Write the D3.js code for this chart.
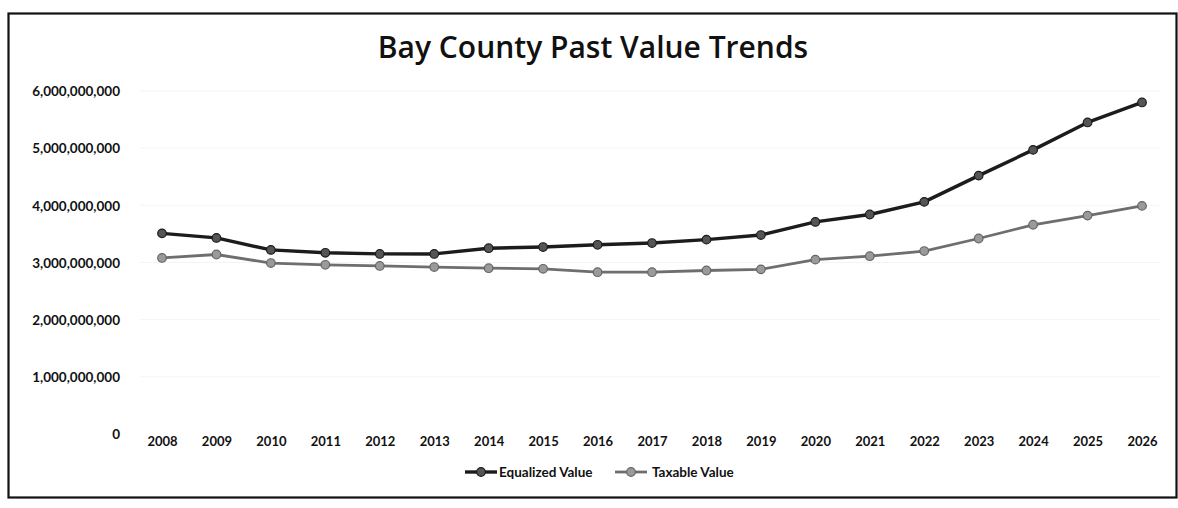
<!DOCTYPE html>
<html>
<head>
<meta charset="utf-8">
<script src="https://cdn.jsdelivr.net/npm/d3@7"></script>
<style>
  html, body { margin: 0; padding: 0; background: #fff; }
  svg { display: block; }
</style>
</head>
<body>
<svg id="chart" width="1178" height="508"></svg>
<script>
const years = ["2008","2009","2010","2011","2012","2013","2014","2015","2016","2017","2018","2019","2020","2021","2022","2023","2024","2025","2026"];
const equalizedValue = [3.51e9,3.43e9,3.22e9,3.17e9,3.15e9,3.15e9,3.25e9,3.27e9,3.31e9,3.34e9,3.40e9,3.48e9,3.71e9,3.84e9,4.06e9,4.52e9,4.97e9,5.45e9,5.80e9];
const taxableValue = [3.08e9,3.14e9,2.99e9,2.96e9,2.94e9,2.92e9,2.90e9,2.89e9,2.83e9,2.83e9,2.86e9,2.88e9,3.05e9,3.11e9,3.20e9,3.42e9,3.66e9,3.82e9,3.99e9];
const yTicks = [0,1e9,2e9,3e9,4e9,5e9,6e9];
const seriesNames = ["Equalized Value","Taxable Value"];

const svg = d3.select("#chart");

// frame
svg.append("rect").attr("x",8.5).attr("y",13.5).attr("width",1168).attr("height",484)
  .attr("fill","#fff").attr("stroke","#111").attr("stroke-width",2.2);

// title
svg.append("text").attr("x",593).attr("y",58).attr("text-anchor","middle")
  .attr("font-family","Open Sans, Inter, sans-serif").attr("font-weight",600)
  .attr("font-size",30).attr("fill","#111").text("Bay County Past Value Trends");

const x = d3.scalePoint().domain(years).range([162,1142]);
const y = d3.scaleLinear().domain([0,6e9]).range([434,91]);

// faint gridlines
svg.append("g").selectAll("line").data(yTicks.slice(1)).join("line")
  .attr("x1",140).attr("x2",1160).attr("y1",d=>y(d)).attr("y2",d=>y(d))
  .attr("stroke","#f4f4f4").attr("stroke-width",1);

// y axis labels
const yAxis = d3.axisLeft(y).tickValues(yTicks).tickSize(0).tickPadding(0)
  .tickFormat(d3.format(",.0f"));
const gy = svg.append("g").attr("transform","translate(120,0)").call(yAxis);
gy.select(".domain").remove();
gy.selectAll("text").attr("font-family","Lato, sans-serif").attr("font-weight",700)
  .attr("font-size",13.5).attr("fill","#111").attr("dy","0.35em");

// x axis labels
const xAxis = d3.axisBottom(x).tickSize(0).tickPadding(0);
const gx = svg.append("g").attr("transform","translate(0,437)").call(xAxis);
gx.select(".domain").remove();
gx.selectAll("text").attr("font-family","Lato, sans-serif").attr("font-weight",700)
  .attr("font-size",13).attr("fill","#111").attr("dy","0.71em");

const line = d3.line().x((d,i)=>x(years[i])).y(d=>y(d));

const styles = [
  {data: equalizedValue, stroke:"#1c1c1c", width:3.4, fill:"#555", mstroke:"#1c1c1c"},
  {data: taxableValue, stroke:"#6e6e6e", width:2.8, fill:"#9a9a9a", mstroke:"#666"}
];

styles.slice().reverse().forEach(s => {
  svg.append("path").datum(s.data).attr("d",line).attr("fill","none")
    .attr("stroke",s.stroke).attr("stroke-width",s.width).attr("stroke-linejoin","round");
  svg.append("g").selectAll("circle").data(s.data).join("circle")
    .attr("cx",(d,i)=>x(years[i])).attr("cy",d=>y(d)).attr("r",4.3)
    .attr("fill",s.fill).attr("stroke",s.mstroke).attr("stroke-width",1.2);
});

// legend
const legendItems = [
  {name: seriesNames[0], x0:465, tx:499, st:styles[0]},
  {name: seriesNames[1], x0:615, tx:652, st:styles[1]}
];
const lg = svg.append("g");
legendItems.forEach(it => {
  lg.append("line").attr("x1",it.x0).attr("x2",it.x0+32).attr("y1",472).attr("y2",472)
    .attr("stroke",it.st.stroke).attr("stroke-width",it.st.width);
  lg.append("circle").attr("cx",it.x0+16).attr("cy",472).attr("r",4.3)
    .attr("fill",it.st.fill).attr("stroke",it.st.mstroke).attr("stroke-width",1.2);
  lg.append("text").attr("x",it.tx).attr("y",472).attr("dy","0.35em")
    .attr("font-family","Lato, sans-serif").attr("font-weight",700).attr("font-size",13.5)
    .attr("fill","#111").text(it.name);
});
</script>
</body>
</html>
